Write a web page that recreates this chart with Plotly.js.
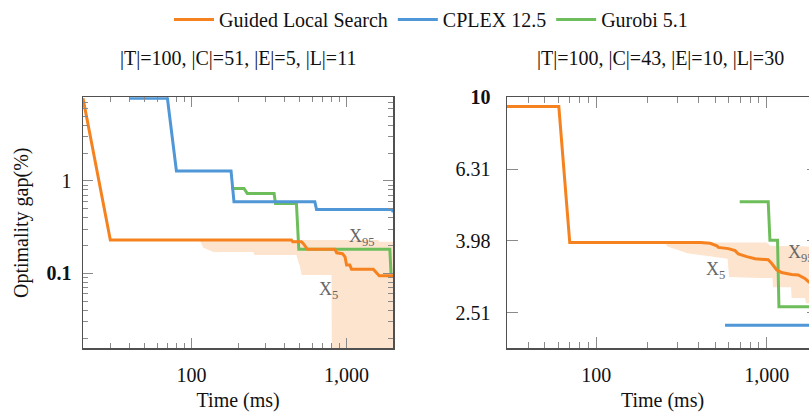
<!DOCTYPE html>
<html>
<head>
<meta charset="utf-8">
<script src="https://cdn.plot.ly/plotly-3.0.1.min.js"></script>
<style>
  html, body { margin: 0; padding: 0; overflow: hidden; background: #fff; }
  #chart { width: 830px; height: 415px; }
</style>
</head>
<body>
<div id="chart"></div>
<script>
// ---------- data ----------
// Left panel: |T|=100, |C|=51, |E|=5, |L|=11
const glsX1 = [20, 30, 441, 450, 512, 525, 560, 841, 863, 941, 977, 1000, 1049, 1076, 1486, 1563, 1623, 2000];
const glsY1 = [7.8, 0.229, 0.229, 0.22, 0.22, 0.211, 0.182, 0.182, 0.167, 0.163, 0.151, 0.123, 0.123, 0.111, 0.111, 0.100, 0.094, 0.094];
const cplexX1 = [40, 70, 80, 180, 188, 624, 640, 1960, 2000];
const cplexY1 = [7.8, 7.8, 1.28, 1.28, 0.594, 0.594, 0.491, 0.491, 0.46];
const gurobiX1 = [181, 218, 229, 341, 348, 475, 492, 1900, 1935];
const gurobiY1 = [0.828, 0.828, 0.731, 0.731, 0.570, 0.570, 0.182, 0.182, 0.098];
const bandUpX1 = [113, 1600, 1625, 2000];
const bandUpY1 = [0.229, 0.229, 0.22, 0.22];
const bandLoX1 = [113, 119, 138, 250, 255, 475, 487, 500, 513, 800, 805, 2000];
const bandLoY1 = [0.229, 0.19, 0.17, 0.17, 0.158, 0.158, 0.134, 0.12, 0.096, 0.096, 0.001, 0.001];

// Right panel: |T|=100, |C|=43, |E|=10, |L|=30
const glsX2 = [30, 60.4, 70, 408, 466, 510, 521, 596, 653, 682, 764, 855, 1021, 1069, 1143, 1223, 1400, 1531, 1675, 1767, 2000];
const glsY2 = [9.42, 9.42, 3.94, 3.94, 3.92, 3.86, 3.82, 3.79, 3.74, 3.66, 3.60, 3.55, 3.53, 3.45, 3.31, 3.25, 3.21, 3.20, 3.13, 3.06, 2.98];
const cplexX2 = [570, 2000];
const cplexY2 = [2.32, 2.32];
const gurobiX2 = [695, 1021, 1045, 1158, 1180, 2000];
const gurobiY2 = [5.12, 5.12, 4.0, 4.0, 2.61, 2.61];
const bandUpX2 = [254, 1000, 1050, 2000];
const bandUpY2 = [3.94, 3.94, 3.86, 3.84];
const bandLoX2 = [254, 261, 299, 342, 440, 590, 602, 914, 1080, 1090, 1390, 1400, 1680, 1700, 2000];
const bandLoY2 = [3.94, 3.84, 3.76, 3.68, 3.62, 3.55, 3.16, 3.14, 3.14, 2.96, 2.96, 2.76, 2.76, 2.67, 2.67];

// tick labels
const xMajorVals = [100, 1000];
const xMajorText = ['100', '1,000'];
const xMinorVals1 = [30, 40, 50, 60, 70, 80, 90, 200, 300, 400, 500, 600, 700, 800, 900];
const xMinorVals2 = [40, 50, 60, 70, 80, 90, 200, 300, 400, 500, 600, 700, 800, 900];
const yMajorVals1 = [0.1, 1];
const yMajorText1 = ['<b>0.1</b>', '1'];
const yMinorVals1 = [0.02, 0.03, 0.04, 0.05, 0.06, 0.07, 0.08, 0.09, 0.2, 0.3, 0.4, 0.5, 0.6, 0.7, 0.8, 0.9, 2, 3, 4, 5, 6, 7];
const yMajorVals2 = [2.51, 3.98, 6.31, 10];
const yMajorText2 = ['2.51', '3.98', '6.31', '<b>10</b>'];

const seriesNames = ['Guided Local Search', 'CPLEX 12.5', 'Gurobi 5.1'];
const panelTitles = ['|T|=100, |C|=51, |E|=5, |L|=11', '|T|=100, |C|=43, |E|=10, |L|=30'];

// ---------- styling ----------
const W = 830, H = 415;
const FONT = '"Liberation Serif", "DejaVu Serif", serif';
const ORANGE = '#F5821F', BLUE = '#4F97D6', GREEN = '#6DBE5B', BAND = '#FDE4CF';
const LW = 3;

function band(upX, upY, loX, loY, xa, ya) {
  return {
    x: upX.concat(loX.slice().reverse()),
    y: upY.concat(loY.slice().reverse()),
    xaxis: xa, yaxis: ya, mode: 'lines', fill: 'toself',
    fillcolor: BAND, line: {width: 0, color: BAND},
    showlegend: false, hoverinfo: 'skip'
  };
}
function line(x, y, color, name, xa, ya, show, rank) {
  return {x: x, y: y, xaxis: xa, yaxis: ya, mode: 'lines', name: name,
          line: {color: color, width: LW}, showlegend: show, legendrank: rank, legendgroup: name};
}

const traces = [
  band(bandUpX1, bandUpY1, bandLoX1, bandLoY1, 'x', 'y'),
  line(gurobiX1, gurobiY1, GREEN, seriesNames[2], 'x', 'y', true, 3),
  line(cplexX1, cplexY1, BLUE, seriesNames[1], 'x', 'y', true, 2),
  line(glsX1, glsY1, ORANGE, seriesNames[0], 'x', 'y', true, 1),
  band(bandUpX2, bandUpY2, bandLoX2, bandLoY2, 'x2', 'y2'),
  line(gurobiX2, gurobiY2, GREEN, seriesNames[2], 'x2', 'y2', false, 3),
  line(cplexX2, cplexY2, BLUE, seriesNames[1], 'x2', 'y2', false, 2),
  line(glsX2, glsY2, ORANGE, seriesNames[0], 'x2', 'y2', false, 1)
];

const yDom = [(H - 348.3) / H, (H - 97.3) / H];
const L1 = [83, 393.3], L2 = [507, 818];
const TXT = {family: FONT, size: 20, color: '#111'};

function axisBase(extra) {
  return Object.assign({
    type: 'log', showgrid: false, zeroline: false,
    showline: true, linecolor: '#505050', linewidth: 1.5, mirror: 'ticks',
    ticks: 'inside', tickcolor: '#8a8a8a', tickwidth: 1,
    tickfont: TXT, tickmode: 'array'
  }, extra);
}

const layout = {
  width: W, height: H,
  margin: {l: 0, r: 0, t: 0, b: 0},
  paper_bgcolor: '#fff', plot_bgcolor: '#fff',
  font: TXT,
  showlegend: true,
  legend: {orientation: 'h', x: 431 / W, xanchor: 'center', y: 1.0, yanchor: 'top',
           font: TXT, bgcolor: 'rgba(0,0,0,0)', traceorder: 'normal', itemwidth: 40},
  xaxis: axisBase({
    domain: [L1[0] / W, L1[1] / W], anchor: 'y',
    range: [Math.log10(20), Math.log10(2000)],
    tickvals: xMajorVals, ticktext: xMajorText, ticklen: 10, ticklabelstandoff: 8,
    minor: {tickvals: xMinorVals1, ticks: 'inside', ticklen: 5, tickcolor: '#8a8a8a'},
    title: {text: 'Time (ms)', font: TXT, standoff: 8}
  }),
  yaxis: axisBase({
    domain: yDom, anchor: 'x',
    range: [Math.log10(0.0155), Math.log10(8)],
    tickvals: yMajorVals1, ticktext: yMajorText1, ticklen: 10, ticklabelstandoff: 6,
    minor: {tickvals: yMinorVals1, ticks: 'inside', ticklen: 5, tickcolor: '#8a8a8a'},
    title: {text: 'Optimality gap(%)', font: TXT, standoff: 12}
  }),
  xaxis2: axisBase({
    domain: [L2[0] / W, L2[1] / W], anchor: 'y2',
    range: [Math.log10(30), Math.log10(2000)],
    tickvals: xMajorVals, ticktext: xMajorText, ticklen: 11, ticklabelstandoff: 8,
    minor: {tickvals: xMinorVals2, ticks: 'inside', ticklen: 6, tickcolor: '#8a8a8a'},
    title: {text: 'Time (ms)', font: TXT, standoff: 8}
  }),
  yaxis2: axisBase({
    domain: yDom, anchor: 'x2',
    range: [Math.log10(2), 1],
    tickvals: yMajorVals2, ticktext: yMajorText2, ticklen: 11, ticklabelstandoff: 11
  }),
  annotations: [
    {text: panelTitles[0], xref: 'paper', yref: 'paper', x: (L1[0] + L1[1]) / 2 / W, y: 1 - 59 / H,
     xanchor: 'center', yanchor: 'middle', showarrow: false, font: TXT},
    {text: panelTitles[1], xref: 'paper', yref: 'paper', x: 660 / W, y: 1 - 59 / H,
     xanchor: 'center', yanchor: 'middle', showarrow: false, font: TXT},
    {text: 'X<sub>95</sub>', xref: 'x', yref: 'y', x: Math.log10(1265), y: Math.log10(0.247),
     showarrow: false, font: {family: FONT, size: 18, color: '#666'}},
    {text: 'X<sub>5</sub>', xref: 'x', yref: 'y', x: Math.log10(769), y: Math.log10(0.0646),
     showarrow: false, font: {family: FONT, size: 18, color: '#666'}},
    {text: 'X<sub>5</sub>', xref: 'x2', yref: 'y2', x: Math.log10(498), y: Math.log10(3.30),
     showarrow: false, font: {family: FONT, size: 18, color: '#666'}},
    {text: 'X<sub>95</sub>', xref: 'x2', yref: 'y2', x: Math.log10(1588), y: Math.log10(3.68),
     showarrow: false, font: {family: FONT, size: 18, color: '#666'}}
  ]
};

Plotly.newPlot('chart', traces, layout, {displayModeBar: false, staticPlot: true});
</script>
</body>
</html>
